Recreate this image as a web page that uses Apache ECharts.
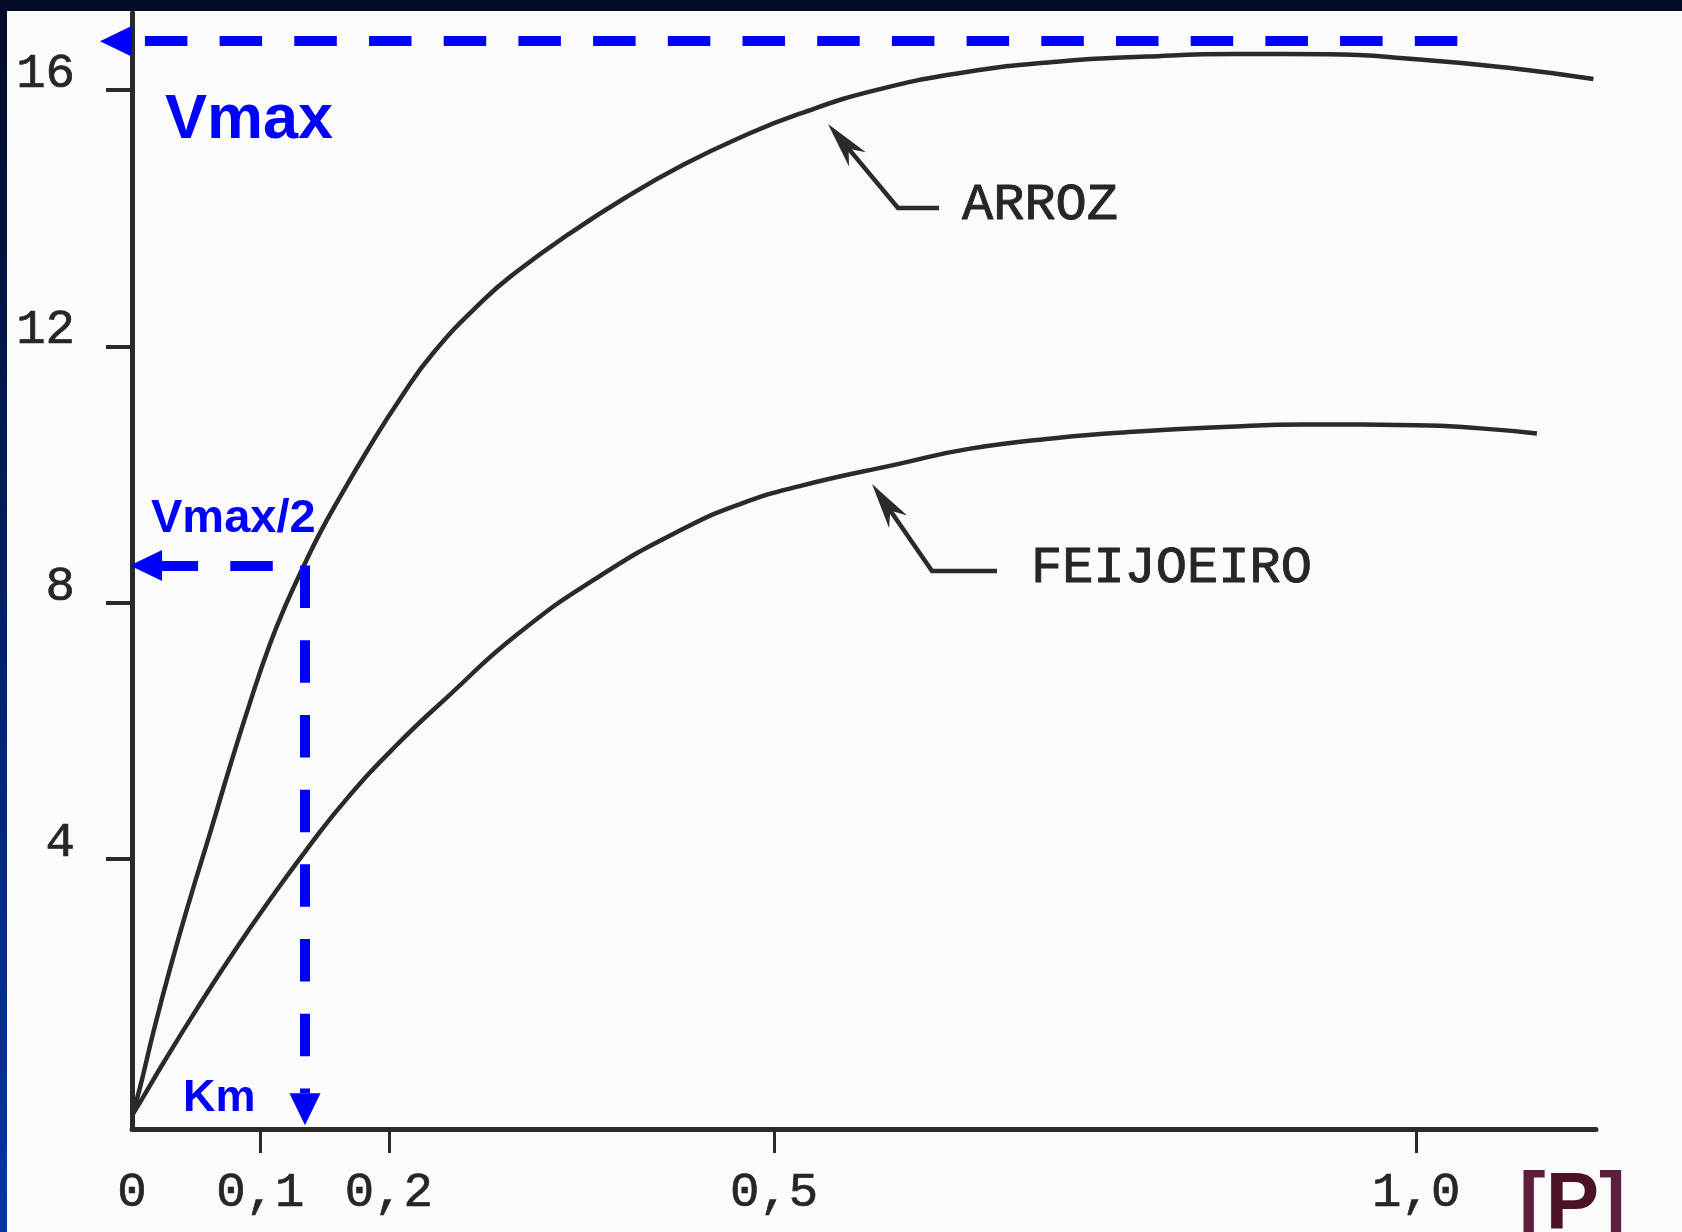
<!DOCTYPE html>
<html>
<head>
<meta charset="utf-8">
<script src="https://cdn.jsdelivr.net/npm/echarts@6/dist/echarts.min.js"></script>
<style>
html,body{margin:0;padding:0;background:#fbfbfb;}
#c{width:1682px;height:1232px;}
</style>
</head>
<body>
<div id="c"></div>
<script>
// ---- data ----
const xTickValues = [0, 0.1, 0.2, 0.5, 1.0];
const xTickLabels = ['0', '0,1', '0,2', '0,5', '1,0'];
const xTickMarks = [0.1, 0.2, 0.5, 1.0];
const yTickValues = [4, 8, 12, 16];
const yTickLabels = ['4', '8', '12', '16'];
const curveNames = ['ARROZ', 'FEIJOEIRO'];

const arrozPoints = [
  [0, 0], [0.006, 0.42], [0.017, 1.33], [0.03, 2.32], [0.045, 3.37], [0.061, 4.42],
  [0.076, 5.43], [0.092, 6.45], [0.1075, 7.36], [0.1205, 8.0], [0.1334, 8.56], [0.1464, 9.09],
  [0.162, 9.65], [0.1828, 10.36], [0.2087, 11.18], [0.2347, 11.9], [0.2736, 12.72], [0.30, 13.17],
  [0.34, 13.75], [0.385, 14.33], [0.43, 14.84], [0.475, 15.27], [0.52, 15.63], [0.58, 16.0],
  [0.65, 16.28], [0.72, 16.44], [0.79, 16.52], [0.86, 16.56], [0.93, 16.555], [1.0, 16.48],
  [1.07, 16.35], [1.138, 16.17]
];
const feijoeiroPoints = [
  [0, 0], [0.009, 0.3], [0.0244, 0.82], [0.0504, 1.66], [0.0789, 2.54], [0.1075, 3.37],
  [0.136, 4.15], [0.1672, 4.94], [0.2061, 5.78], [0.2451, 6.52], [0.2996, 7.5], [0.3645, 8.42],
  [0.4289, 9.15], [0.475, 9.55], [0.52, 9.82], [0.598, 10.17], [0.6516, 10.4], [0.72, 10.57],
  [0.783, 10.67], [0.85, 10.74], [0.914, 10.78], [1.0, 10.77], [1.05, 10.72], [1.094, 10.64]
];

// annotation values (Michaelis-Menten guide lines)
const vmaxValue = 16.76;
const halfVmaxValue = 8.58;
const kmValue = 0.1347;
const vmaxLineFromX = 1.032;
const halfLineToX = 0.0234;
const kmLineToY = 0.346;
const annotationLabels = ['Vmax', 'Vmax/2', 'Km'];

// ---- chart ----
const chart = echarts.init(document.getElementById('c'), null, {renderer: 'canvas'});
const blue = '#0000ff';
const ink = '#2a2a2a';
const dash = [42.5, 32.2];
const mono = '"Liberation Mono", "DejaVu Sans Mono", monospace';
const sans = '"Liberation Sans", Arial, sans-serif';

function fmtX(v) {
  const i = xTickValues.findIndex(t => Math.abs(t - v) < 1e-6);
  return i >= 0 ? xTickLabels[i] : '';
}
function fmtY(v) {
  const i = yTickValues.findIndex(t => Math.abs(t - v) < 1e-6);
  return i >= 0 ? yTickLabels[i] : '';
}

function endArrow(coord) {
  return {coord: coord, symbol: 'triangle', symbolSize: [31, 32], symbolOffset: [0, -16]};
}

function pointer(tip, corner, end) {
  const dx = corner[0] - tip[0], dy = corner[1] - tip[1];
  const L = Math.hypot(dx, dy);
  const ux = dx / L, uy = dy / L, px = -uy, py = ux;
  const hl = 46, hw = 11;
  const b = [tip[0] + ux * hl, tip[1] + uy * hl];
  const n = [tip[0] + ux * hl * 0.7, tip[1] + uy * hl * 0.7];
  return [
    {type: 'polyline', z: 50, shape: {points: [[tip[0] + ux * 20, tip[1] + uy * 20], corner, end]},
     style: {stroke: ink, lineWidth: 4.5, fill: null}},
    {type: 'polygon', z: 50, shape: {points: [tip, [b[0] + px * hw, b[1] + py * hw], n, [b[0] - px * hw, b[1] - py * hw]]},
     style: {fill: ink}}
  ];
}

const option = {
  animation: false,
  grid: {left: 132, right: 86, top: 13, bottom: 103, containLabel: false},
  xAxis: {
    type: 'value', min: 0, max: 1.14,
    axisLine: {onZero: false, lineStyle: {color: ink, width: 5}},
    axisTick: {show: true, customValues: xTickMarks, length: 24, lineStyle: {color: ink, width: 3}},
    axisLabel: {customValues: xTickValues, formatter: fmtX, margin: 40,
      fontFamily: mono, fontSize: 49, color: '#262626', textBorderColor: '#262626', textBorderWidth: 0.7},
    splitLine: {show: false}
  },
  yAxis: {
    type: 'value', min: -0.21, max: 17.2,
    axisLine: {onZero: false, lineStyle: {color: ink, width: 5}},
    axisTick: {show: true, customValues: yTickValues, length: 26, lineStyle: {color: ink, width: 4}},
    axisLabel: {customValues: yTickValues, formatter: fmtY, margin: 57,
      fontFamily: mono, fontSize: 49, color: '#262626', textBorderColor: '#262626', textBorderWidth: 0.7,
      verticalAlign: 'bottom', lineHeight: 32},
    splitLine: {show: false}
  },
  series: [
    {
      type: 'line', name: curveNames[0], data: arrozPoints, smooth: 0.5,
      showSymbol: false, symbol: 'none', silent: true,
      lineStyle: {color: ink, width: 4.5}, itemStyle: {color: ink},
      markLine: {
        silent: true, animation: false, label: {show: false},
        emphasis: {disabled: true},
        itemStyle: {color: blue},
        data: [
          [ {coord: [vmaxLineFromX, vmaxValue], symbol: 'none',
             lineStyle: {color: blue, width: 10, type: dash, dashOffset: 0}},
            endArrow([0, vmaxValue]) ],
          [ {coord: [kmValue, halfVmaxValue], symbol: 'none',
             lineStyle: {color: blue, width: 10, type: dash, dashOffset: 42.5}},
            endArrow([halfLineToX, halfVmaxValue]) ],
          [ {coord: [kmValue, halfVmaxValue], symbol: 'none',
             lineStyle: {color: blue, width: 10, type: dash, dashOffset: 0}},
            endArrow([kmValue, kmLineToY]) ]
        ]
      }
    },
    {
      type: 'line', name: curveNames[1], data: feijoeiroPoints, smooth: 0.5,
      showSymbol: false, symbol: 'none', silent: true,
      lineStyle: {color: ink, width: 4.5}, itemStyle: {color: ink}
    }
  ],
  graphic: [
    {type: 'rect', z: -100, shape: {x: 0, y: 0, width: 1682, height: 1232},
     style: {fill: new echarts.graphic.LinearGradient(0, 0, 0, 1, [
       {offset: 0, color: '#020c26'}, {offset: 1, color: '#0036a8'}])}},
    {type: 'rect', z: -99, shape: {x: 7, y: 11, width: 1675, height: 1221}, style: {fill: '#fbfbfb'}},
    {type: 'text', z: 60, x: 165, y: 121,
     style: {text: annotationLabels[0], fill: blue, fontFamily: sans, fontWeight: 'bold', fontSize: 63,
       align: 'left', verticalAlign: 'middle'}},
    {type: 'text', z: 60, x: 151, y: 519,
     style: {text: annotationLabels[1], fill: blue, fontFamily: sans, fontWeight: 'bold', fontSize: 47,
       align: 'left', verticalAlign: 'middle'}},
    {type: 'text', z: 60, x: 183, y: 1099,
     style: {text: annotationLabels[2], fill: blue, fontFamily: sans, fontWeight: 'bold', fontSize: 45,
       align: 'left', verticalAlign: 'middle'}},
    {type: 'text', z: 60, x: 962, y: 205,
     style: {text: curveNames[0], fill: '#262626', fontFamily: mono, fontSize: 52,
       align: 'left', verticalAlign: 'middle', stroke: '#262626', lineWidth: 0.9}},
    {type: 'text', z: 60, x: 1031, y: 568,
     style: {text: curveNames[1], fill: '#262626', fontFamily: mono, fontSize: 52,
       align: 'left', verticalAlign: 'middle', stroke: '#262626', lineWidth: 0.9}},
    {type: 'text', z: 60, x: 1519, y: 1206,
     style: {text: '{b|[}{p|P}{b|]}', fontFamily: sans, fontSize: 80, verticalAlign: 'middle', align: 'left',
       rich: {
         b: {fill: '#5e1f3e', fontFamily: sans, fontSize: 80, fontWeight: 'bold'},
         p: {fill: '#4a1422', fontFamily: sans, fontSize: 80, fontWeight: 'bold'}
       }}}
  ].concat(pointer([828, 124], [898, 208], [939, 208]))
   .concat(pointer([872, 484], [932, 571], [997, 571]))
};
chart.setOption(option);
</script>
</body>
</html>
